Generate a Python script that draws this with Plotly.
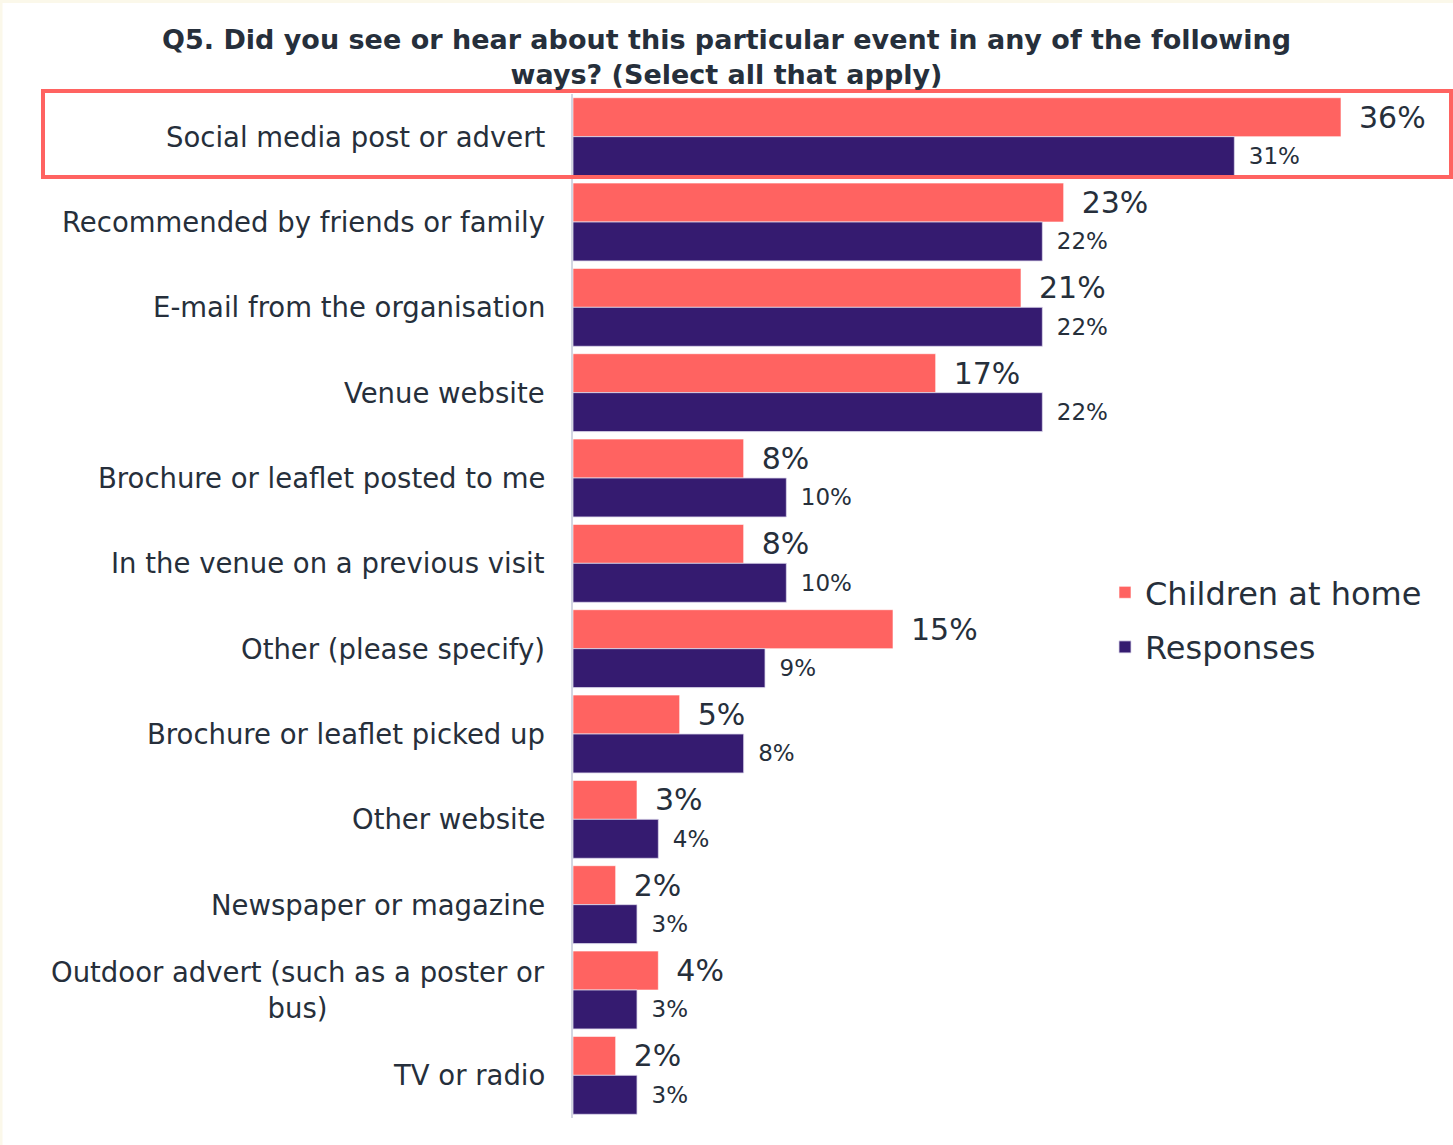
import plotly.graph_objects as go

# Survey answers, top to bottom
categories = [
    "Social media post or advert",
    "Recommended by friends or family",
    "E-mail from the organisation",
    "Venue website",
    "Brochure or leaflet posted to me",
    "In the venue on a previous visit",
    "Other (please specify)",
    "Brochure or leaflet picked up",
    "Other website",
    "Newspaper or magazine",
    "Outdoor advert (such as a poster or<br>bus)",
    "TV or radio",
]
children_at_home = [36, 23, 21, 17, 8, 8, 15, 5, 3, 2, 4, 2]
responses = [31, 22, 22, 22, 10, 10, 9, 8, 4, 3, 3, 3]

TITLE = "Q5. Did you see or hear about this particular event in any of the following<br>ways? (Select all that apply)"

RED = "#FF6361"
PURPLE = "#351B70"
TEXT = "#262F3B"
FONT = "DejaVu Sans"

W, H = 1453, 1145
L, R, T, B = 573, 0, 94, 27
PW, PH = W - L - R, H - T - B


def px_x(p):
    return (p - L) / PW


def px_y(p):
    return (H - B - p) / PH


fig = go.Figure()
fig.add_trace(go.Bar(
    y=categories, x=children_at_home, orientation="h", name="Children at home",
    marker=dict(color=RED, line=dict(color="rgba(255,255,255,0.6)", width=1)),
    texttemplate="\u2002%{x}%", textposition="outside", constraintext="none",
    textfont=dict(size=30, color=TEXT, family=FONT), cliponaxis=False,
    legendgroup="a",
))
fig.add_trace(go.Bar(
    y=categories, x=responses, orientation="h", name="Responses",
    marker=dict(color=PURPLE, line=dict(color="rgba(220,215,235,0.8)", width=1)),
    texttemplate="\u2002%{x}%", textposition="outside", constraintext="none",
    textfont=dict(size=23, color=TEXT, family=FONT), cliponaxis=False,
    legendgroup="b",
))

# Category labels, right aligned with centred wrapped lines
for c in categories:
    fig.add_annotation(
        x=px_x(547), xref="paper", y=c, yref="y", text=c, showarrow=False,
        xanchor="right", yanchor="middle", align="center",
        font=dict(size=27.5, color=TEXT, family=FONT),
    )

shapes = [
    # highlight around the first answer
    dict(type="rect", xref="paper", yref="paper",
         x0=px_x(43), x1=px_x(1451), y0=px_y(91), y1=px_y(177),
         line=dict(color=RED, width=4), fillcolor="rgba(0,0,0,0)", layer="above"),
    # cream page edge
    dict(type="rect", xref="paper", yref="paper",
         x0=px_x(0), x1=px_x(2.5), y0=px_y(H), y1=px_y(0),
         line=dict(width=0), fillcolor="#FBF8EA", layer="below"),
    dict(type="rect", xref="paper", yref="paper",
         x0=px_x(0), x1=px_x(W), y0=px_y(3), y1=px_y(0),
         line=dict(width=0), fillcolor="#FBF8EA", layer="below"),
]

fig.update_layout(
    width=W, height=H,
    margin=dict(l=L, r=R, t=T, b=B),
    paper_bgcolor="white", plot_bgcolor="white",
    barmode="group", bargap=0.087, bargroupgap=0,
    title=dict(text=TITLE, x=0.5, xanchor="center", xref="container",
               y=1 - 49 / H, yanchor="top", yref="container",
               font=dict(size=27, color=TEXT, family=FONT, weight="bold")),
    xaxis=dict(range=[0, PW / (768 / 36)], visible=False, fixedrange=True),
    yaxis=dict(autorange="reversed", showticklabels=False, showgrid=False,
               showline=True, linecolor="#D3D6E2", linewidth=2, ticks=""),
    legend=dict(x=px_x(1105), y=px_y(565), xanchor="left", yanchor="top",
                font=dict(size=32, color=TEXT, family=FONT),
                traceorder="grouped", tracegroupgap=10, itemwidth=30,
                bgcolor="rgba(0,0,0,0)"),
    shapes=shapes,
    showlegend=True,
)

fig.write_html("out.html")
